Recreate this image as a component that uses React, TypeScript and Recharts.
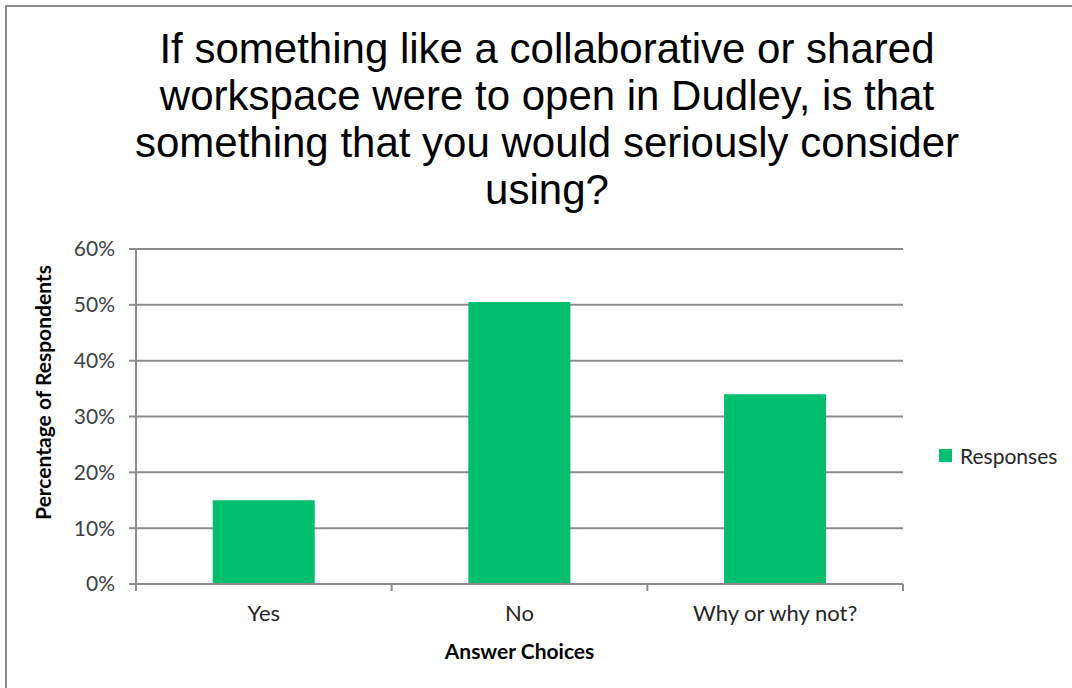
import React from "react";
import { BarChart, Bar, XAxis, YAxis, CartesianGrid, Legend } from "recharts";

const titleLines = [
  "If something like a collaborative or shared",
  "workspace were to open in Dudley, is that",
  "something that you would seriously consider",
  "using?",
];
const categories = ["Yes", "No", "Why or why not?"];
const responses = [15.0, 50.5, 34.0];
const yTicks = [0, 10, 20, 30, 40, 50, 60];
const seriesName = "Responses";
const xTitle = "Answer Choices";
const yTitle = "Percentage of Respondents";

const data = categories.map((c, i) => ({ name: c, Responses: responses[i] }));

const W = 1072;
const H = 688;
const LEGEND_W = 130;
const margin = { top: 249, right: 169 - LEGEND_W, bottom: 44, left: 56 };
const Y_AXIS_W = 80;
const plotW = 903 - 136;
const band = plotW / categories.length;
const GRID = "#8c8c8c";
const GREEN = "#00BF6F";
const FONT = "Lato, sans-serif";

const XTick = (props: any) => {
  const { x, y, payload, index } = props;
  const left = x - band / 2;
  const right = x + band / 2;
  return (
    <g>
      {index === 0 && <line x1={left} x2={left} y1={y - 8} y2={y - 1} stroke={GRID} strokeWidth={2} />}
      <line x1={right} x2={right} y1={y - 8} y2={y - 1} stroke={GRID} strokeWidth={2} />
      <text x={x} y={y + 29} textAnchor="middle" fontFamily={FONT} fontSize={22} fill="#262626">
        {payload.value}
      </text>
    </g>
  );
};

const YTitle = (props: any) => {
  const vb = props.viewBox || { x: 56, y: 249, width: 80, height: 335 };
  const cx = vb.x - 14;
  const cy = vb.y + vb.height / 2 - 24;
  return (
    <text
      x={cx}
      y={cy}
      transform={`rotate(-90, ${cx}, ${cy})`}
      textAnchor="middle"
      dominantBaseline="central"
      fontFamily={FONT}
      fontWeight={700}
      fontSize={21}
      fill="#000"
    >
      {yTitle}
    </text>
  );
};

const LegendContent = () => (
  <div style={{ display: "flex", alignItems: "center", fontFamily: FONT, fontSize: 21, color: "#262626" }}>
    <span style={{ display: "inline-block", width: 13, height: 13, background: GREEN, marginRight: 8 }} />
    <span>{seriesName}</span>
  </div>
);

export default function App() {
  return (
    <div style={{ position: "absolute", left: 0, top: 0, width: W, height: H, background: "#fff", overflow: "hidden" }}>
      <div
        style={{
          position: "absolute",
          left: 5,
          top: 5,
          width: W + 20,
          height: H + 20,
          borderLeft: "2px solid #8a8a8a",
          borderTop: "2px solid #8a8a8a",
          boxSizing: "border-box",
        }}
      />
      <div
        style={{
          position: "absolute",
          left: 547 - 500,
          top: 25,
          width: 1000,
          textAlign: "center",
          fontFamily: "'Liberation Sans', Arial, sans-serif",
          fontSize: 42,
          lineHeight: "47px",
          color: "#000",
        }}
      >
        {titleLines.map((l, i) => (
          <div key={i}>{l}</div>
        ))}
      </div>
      <BarChart width={W} height={H} data={data} margin={margin} barCategoryGap="30%" style={{ position: "absolute", left: 0, top: 0 }}>
        <CartesianGrid vertical={false} stroke={GRID} strokeWidth={2} />
        <XAxis
          dataKey="name"
          axisLine={{ stroke: GRID, strokeWidth: 2 }}
          tickLine={false}
          tick={<XTick />}
          height={60}
          interval={0}
          label={{
            value: xTitle,
            position: "insideBottom",
            offset: -15,
            style: { fontFamily: FONT, fontWeight: 700, fontSize: 21, fill: "#000" },
          }}
        />
        <YAxis
          width={Y_AXIS_W}
          domain={[0, 60]}
          ticks={yTicks}
          interval={0}
          tickFormatter={(v: number) => `${v}%`}
          axisLine={{ stroke: GRID, strokeWidth: 2 }}
          tickLine={{ stroke: GRID, strokeWidth: 2 }}
          tickSize={7}
          tickMargin={14}
          tick={{ fontFamily: FONT, fontSize: 21, fill: "#404040" }}
          label={<YTitle />}
        />
        <Bar dataKey="Responses" name={seriesName} fill={GREEN} isAnimationActive={false} />
        <Legend
          layout="horizontal"
          verticalAlign="middle"
          align="right"
          content={<LegendContent />}
          wrapperStyle={{ left: 939, top: 443, width: LEGEND_W, right: "auto", bottom: "auto" }}
        />
      </BarChart>
    </div>
  );
}
